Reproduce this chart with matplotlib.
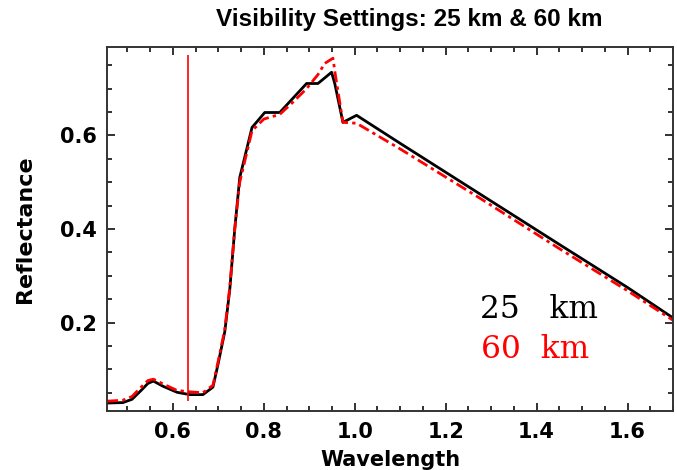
import matplotlib
matplotlib.use("Agg")
import matplotlib.pyplot as plt
from matplotlib.ticker import MultipleLocator

# reflectance spectra for the two visibility runs
wl_25 = [0.455, 0.49, 0.51, 0.53, 0.545, 0.557, 0.578, 0.609, 0.637, 0.666, 0.688, 0.699,
         0.714, 0.725, 0.736, 0.747, 0.774, 0.802, 0.835, 0.894, 0.919, 0.949,
         0.956, 0.974, 1.004, 1.10, 1.275, 1.45, 1.60, 1.70]
refl_25 = [0.028, 0.029, 0.036, 0.055, 0.070, 0.075, 0.064, 0.051, 0.046, 0.046, 0.062, 0.11,
           0.18, 0.27, 0.40, 0.51, 0.617, 0.649, 0.649, 0.711, 0.711, 0.735,
           0.711, 0.628, 0.643, 0.583, 0.475, 0.367, 0.275, 0.210]

wl_60 = [0.455, 0.49, 0.51, 0.53, 0.545, 0.557, 0.578, 0.609, 0.637, 0.666, 0.688, 0.699,
         0.714, 0.725, 0.736, 0.747, 0.774, 0.80, 0.835, 0.865, 0.894, 0.919, 0.934,
         0.952, 0.958, 0.974, 1.004, 1.10, 1.275, 1.45, 1.60, 1.70]
refl_60 = [0.032, 0.034, 0.042, 0.062, 0.076, 0.079, 0.069, 0.055, 0.052, 0.050, 0.066, 0.115,
           0.185, 0.275, 0.40, 0.50, 0.610, 0.635, 0.645, 0.672, 0.700, 0.730, 0.754,
           0.765, 0.725, 0.628, 0.626, 0.571, 0.466, 0.358, 0.268, 0.205]

band_wl = 0.633
band_lo, band_hi = 0.032, 0.771

x_range = (0.455, 1.70)
y_range = (0.011, 0.789)

fig = plt.figure(figsize=(6.77, 4.70), dpi=100)
ax = fig.add_axes([107 / 677, 59 / 470, 566 / 677, 364 / 470])

ax.plot(wl_25, refl_25, color="black", lw=2.0, solid_joinstyle="round")
ax.plot(wl_60, refl_60, color="red", lw=2.0, linestyle=(0, (4, 1.5, 1.2, 1.5)))
ax.vlines(band_wl, band_lo, band_hi, color="red", lw=1.2)

ax.set_xlim(*x_range)
ax.set_ylim(*y_range)

ax.xaxis.set_major_locator(MultipleLocator(0.2))
ax.xaxis.set_minor_locator(MultipleLocator(0.05))
ax.yaxis.set_major_locator(MultipleLocator(0.2))
ax.yaxis.set_minor_locator(MultipleLocator(0.05))
ax.tick_params(which="both", direction="in", top=True, right=True, width=1.3, color="#222222")
ax.tick_params(which="major", length=6)
ax.tick_params(which="minor", length=3.5)
ax.tick_params(axis="x", pad=8)
ax.tick_params(axis="y", pad=7)
for lab in ax.get_xticklabels() + ax.get_yticklabels():
    lab.set_fontfamily("DejaVu Sans")
    lab.set_fontweight("bold")
    lab.set_fontsize(15)

for sp in ax.spines.values():
    sp.set_linewidth(1.4)
    sp.set_color("#333333")

ax.set_xlabel("Wavelength", fontsize=15, fontweight="bold", labelpad=6)
ax.set_ylabel("Reflectance", fontsize=16, fontweight="bold", labelpad=18)

fig.text(409 / 677, 1 - 26 / 470, "Visibility Settings: 25 km & 60 km",
         ha="center", va="baseline", fontsize=17.5, fontweight="bold",
         family=["Liberation Sans Narrow", "Liberation Sans"])

# run labels
fig.text(480 / 677, 1 - 318 / 470, "25   km", color="black", fontsize=22.5,
         family="DejaVu Serif", va="baseline", ha="left")
fig.text(481 / 677, 1 - 358 / 470, "60  km", color="red", fontsize=22.5,
         family="DejaVu Serif", va="baseline", ha="left")

fig.savefig("out.png", dpi=100)
